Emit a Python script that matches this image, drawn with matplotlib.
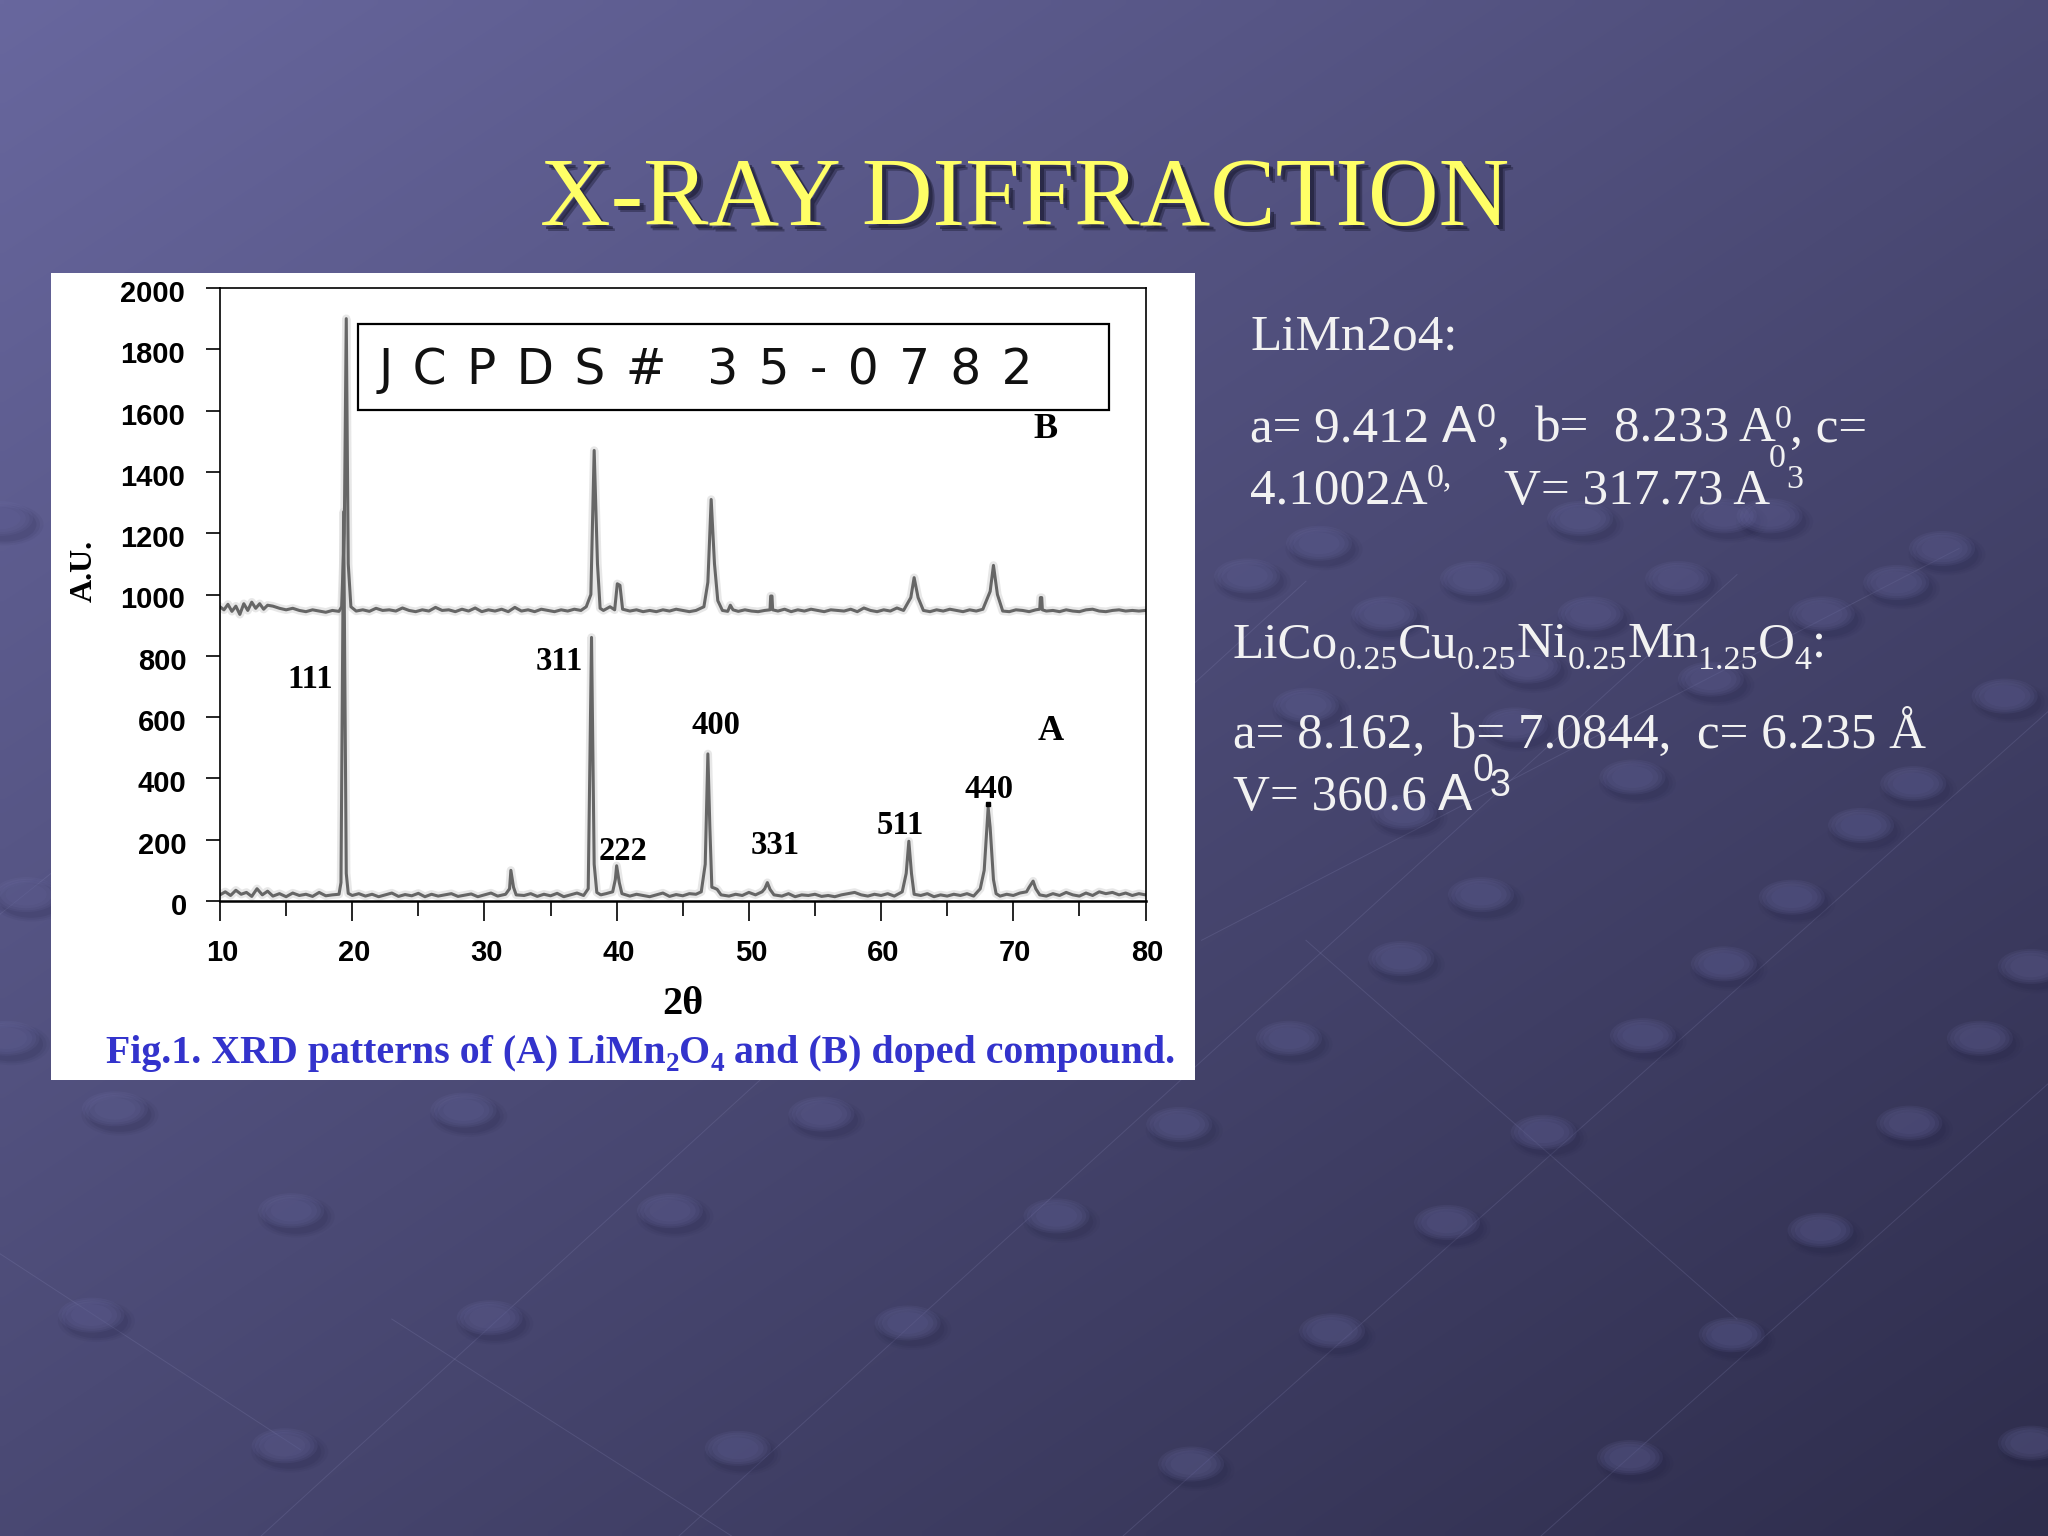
import numpy as np
import matplotlib
matplotlib.use("Agg")
import matplotlib.pyplot as plt
from matplotlib.patches import Ellipse, Rectangle
from matplotlib.transforms import ScaledTranslation

W, H = 2048, 1536
SERIF = "Liberation Serif"
SANS = "Liberation Sans"

# ---------- chart data ----------
trace_a = [(10,20),(10.4,30),(10.8,18),(11.2,35),(11.6,22),(12,28),(12.4,15),(12.8,40),(13.2,20),(13.6,32),(14,16),(14.5,24),(15,14),(15.5,26),(16,18),(16.5,22),(17,15),(17.5,28),(18,17),(18.5,20),(19,22),(19.15,60),(19.35,1270),(19.55,90),(19.7,25),
 (20,18),(20.5,24),(21,16),(21.5,22),(22,14),(22.5,20),(23,26),(23.5,15),(24,21),(24.5,17),(25,25),(25.5,14),(26,22),(26.5,16),(27,20),(27.5,24),(28,15),(28.5,19),(29,23),(29.5,14),(30,20),(30.5,26),(31,16),(31.6,22),(31.9,40),(32.0,100),(32.2,45),(32.4,20),
 (33,18),(33.5,24),(34,15),(34.5,22),(35,17),(35.5,25),(36,14),(36.5,20),(37,26),(37.5,18),(37.85,40),(38.1,860),(38.3,120),(38.5,28),(38.8,20),(39.2,24),(39.7,30),(39.9,70),(40.0,115),(40.2,60),(40.4,24),
 (41,16),(41.5,22),(42,18),(42.5,14),(43,20),(43.5,26),(44,15),(44.5,21),(45,17),(45.5,24),(46,22),(46.4,30),(46.7,120),(46.9,480),(47.05,240),(47.2,45),(47.4,42),(47.6,38),(47.9,20),
 (48.5,16),(49,22),(49.5,18),(50,28),(50.5,20),(51,30),(51.2,40),(51.4,60),(51.6,38),(51.9,20),(52.5,16),(53,24),(53.5,14),(54,20),(54.5,18),(55,22),(55.5,15),(56,18),(56.5,14),(57,20),(57.5,24),(58,28),(58.5,20),(59,16),(59.5,22),(60,18),(60.5,24),(61,16),(61.6,30),(61.9,90),(62.1,195),(62.3,90),(62.5,22),
 (63,18),(63.5,24),(64,14),(64.5,20),(65,16),(65.5,22),(66,18),(66.5,24),(67,16),(67.5,40),(67.8,100),(68.1,305),(68.25,240),(68.5,70),(68.7,24),(69,16),(69.5,22),(70,18),(70.5,26),(71,30),(71.2,45),(71.5,65),(71.7,40),(72,20),
 (72.5,16),(73,24),(73.5,18),(74,28),(74.5,20),(75,16),(75.5,26),(76,18),(76.5,30),(77,24),(77.5,28),(78,20),(78.5,26),(79,18),(79.5,24),(80,20)]

trace_b = [(10,960),(10.3,950),(10.6,968),(10.9,945),(11.2,962),(11.5,935),(11.8,970),(12.1,948),(12.4,975),(12.7,955),(13,970),(13.3,952),(13.6,965),(14,962),(14.5,955),(15,950),(15.5,955),(16,948),(16.5,944),(17,950),(17.5,946),(18,942),(18.5,948),(19,945),(19.2,960),(19.4,1200),(19.55,1900),(19.7,1100),(19.9,960),
 (20.3,946),(20.8,950),(21.3,945),(21.8,955),(22.3,948),(22.8,950),(23.3,946),(23.8,956),(24.3,948),(24.8,944),(25.3,950),(25.8,946),(26.3,958),(26.8,948),(27.3,950),(27.8,944),(28.3,952),(28.8,946),(29.3,956),(29.8,944),(30.3,950),(30.8,946),(31.3,952),(31.8,944),(32.3,958),(32.8,946),(33.3,950),(33.8,944),(34.3,952),(34.8,948),(35.3,944),(35.8,950),(36.3,946),(36.8,952),(37.3,948),(37.7,960),(38.05,1000),(38.3,1470),(38.55,1100),(38.75,955),(39,948),
 (39.5,960),(39.85,950),(40.05,1035),(40.25,1030),(40.45,952),(41,946),(41.5,950),(42,944),(42.5,948),(43,944),(43.5,950),(44,946),(44.5,952),(45,948),(45.5,944),(46,948),(46.6,960),(46.9,1040),(47.15,1310),(47.4,1100),(47.65,980),(48,948),(48.4,945),(48.6,965),(48.8,950),(49.2,945),(49.7,950),(50.2,946),(50.7,944),(51.2,948),(51.6,950),(51.65,995),(51.75,995),(51.8,950),
 (52.2,946),(52.7,952),(53.2,944),(53.7,950),(54.2,946),(54.7,952),(55.2,948),(55.7,944),(56.2,950),(56.7,948),(57.2,946),(57.7,952),(58.2,944),(58.7,956),(59.2,948),(59.7,944),(60.2,950),(60.7,946),(61.2,956),(61.7,948),(62.25,990),(62.5,1055),(62.8,990),(63.2,948),(63.7,944),(64.2,950),(64.7,946),(65.2,952),(65.7,948),(66.2,944),(66.7,950),(67.2,946),(67.7,952),(68.25,1010),(68.5,1095),(68.8,1000),(69.2,946),(69.7,944),(70.2,950),(70.7,948),(71.2,944),(71.7,950),(72.0,952),(72.05,990),(72.15,990),(72.2,950),(72.5,946),(73,948),(73.5,944),(74,950),(74.5,946),(75,944),(75.5,950),(76,952),(76.5,946),(77,944),(77.5,948),(78,950),(78.5,946),(79,948),(79.5,946),(80,948)]

x_ticks_major = [10,20,30,40,50,60,70,80]
x_ticks_minor = [15,25,35,45,55,65,75]
y_ticks = [0,200,400,600,800,1000,1200,1400,1600,1800,2000]

peak_labels = ["111","311","222","400","331","511","440"]
peak_label_px = [(310,679),(559,661),(623,851),(716,725),(775,845),(900,825),(989,790)]

fig = plt.figure(figsize=(W/100, H/100), dpi=100)

# ---------- slide background ----------
bg = fig.add_axes([0,0,1,1], zorder=0)
bg.set_xlim(0,W); bg.set_ylim(H,0); bg.axis("off")
u = np.linspace(0,1,256); v = np.linspace(0,1,192)
uu, vv = np.meshgrid(u, v)
t = ((uu*0.55 + vv*0.62)/1.17)[...,None]
top = np.array([0x68,0x67,0x9e])/255
bot = np.array([0x2e,0x2d,0x4c])/255
bg.imshow(top*(1-t)+bot*t, extent=[0,W,H,0], aspect="auto", interpolation="bilinear", zorder=0)
bg.set_xlim(0,W); bg.set_ylim(H,0)

blobs = [(88,849),(355,850),(629,853),(903,861),(1182,867),(1462,860),(223,927),(513,927),(809,931),(1108,936),(1394,942),
 (70,1007),(375,1009),(695,1013),(1020,1019),(1326,1022),(218,1107),(565,1109),(912,1121),(1248,1116),(1555,1105),
 (987,795),(1258,793),(1516,795),(5,795),(1073,734),(1320,738),(1555,740),(1134,685),(1372,687),(20,685),
 (1250,595),(1425,632),(1465,600),(1075,622),(1010,416),(1210,397),(1320,395),(1355,395),(1487,420),(955,441),
 (1128,443),(1285,443),(1452,446),(1060,470),(1218,470),(1395,470),(1535,533),(1170,510),(1160,555),(1310,520),(1000,540),(0,397)]
lines = [((860,1176),(1568,545)),((200,1176),(1000,445)),((520,1176),(1330,440)),((1180,1176),(1568,830)),((0,700),(250,500)),((920,720),(1500,420)),
         ((0,960),(230,1110)),((300,1010),(560,1176)),((1000,720),(1330,1010))]
for (a,b) in lines:
    bg.plot([a[0]*1.306,b[0]*1.306],[a[1]*1.306,b[1]*1.306],color="#8a8ab8",lw=0.7,alpha=0.22,zorder=1)
for (x,y) in blobs:
    X,Y = x*1.306,y*1.306
    for k,(sc,al) in enumerate(((1.1,0.06),(1.0,0.08),(0.9,0.10))):
        bg.add_patch(Ellipse((X+5,Y+6),70*sc,38*sc,fc="#1e1e40",ec="none",alpha=al,zorder=2))
    for k,(sc,al) in enumerate(((1.0,0.10),(0.9,0.10),(0.78,0.10),(0.62,0.08))):
        bg.add_patch(Ellipse((X,Y),66*sc,35*sc,fc="#7a7ab4",ec="none",alpha=al,zorder=3))

bg.add_patch(Rectangle((51,273),1144,807,fc="white",ec="none",zorder=5))

# ---------- chart ----------
ax = fig.add_axes([220/W, 1-901/H, (1145.5-220)/W, (901-288)/H], zorder=2)
ax.set_facecolor("none")
ax.set_xlim(10,80); ax.set_ylim(0,2000)
for tr in (trace_a,trace_b):
    tr_x,tr_y = zip(*tr)
    ax.plot(tr_x,tr_y,color="#d8d8d8",lw=6,alpha=0.6,solid_joinstyle="round",zorder=1)
    ax.plot(tr_x,tr_y,color="#666666",lw=2.2,solid_joinstyle="round",zorder=2)
ax.plot([68.1],[318],marker="s",ms=3,color="black",ls="none",zorder=3)
for s in ax.spines.values():
    s.set_linewidth(1.2); s.set_color("black")
ax.spines["bottom"].set_linewidth(1.8)
ax.set_xticks(x_ticks_major); ax.set_xticks(x_ticks_minor, minor=True)
ax.tick_params(axis="x",which="major",length=14.5,width=1.2,pad=13)
ax.tick_params(axis="x",which="minor",length=11,width=1.2)
ax.set_xticklabels([str(v) for v in x_ticks_major],fontfamily=SANS,fontweight="bold",fontsize=21)
ax.set_yticks(y_ticks)
ax.set_yticklabels([str(v) for v in y_ticks],fontfamily=SANS,fontweight="bold",fontsize=21)
ax.tick_params(axis="y",width=1.2,length=10)
for val,tk in zip(y_ticks,ax.yaxis.get_major_ticks()):
    if val<1000:
        tk.tick1line.set_markersize(15); tk.set_pad(14)
    else:
        tk.tick1line.set_markersize(10); tk.set_pad(15.5)
dn = ScaledTranslation(0,-3/100,fig.dpi_scale_trans)
rt = ScaledTranslation(2/100,0,fig.dpi_scale_trans)
for lb in ax.get_yticklabels():
    lb.set_transform(lb.get_transform()+dn)
for lb in ax.get_xticklabels():
    lb.set_transform(lb.get_transform()+rt)

# ---------- overlay text ----------
ov = fig.add_axes([0,0,1,1], zorder=3)
ov.set_xlim(0,W); ov.set_ylim(H,0); ov.axis("off"); ov.patch.set_alpha(0)

for s,(x,y) in zip(peak_labels,peak_label_px):
    ov.text(x,y,s,family=SERIF,weight="bold",fontsize=23.5,color="black",ha="center",va="center")
ov.text(1051,732,"A",family=SERIF,weight="bold",fontsize=26,ha="center",va="center")
ov.text(1045,430,"B",family=SERIF,weight="bold",fontsize=26,ha="center",va="center")
ov.text(84,571,"A.U.",family=SERIF,weight="bold",fontsize=23,rotation=90,ha="center",va="center")
ov.text(683,1004,"2θ",family=SERIF,weight="bold",fontsize=29,ha="center",va="center")

ov.add_patch(Rectangle((358,324),751,86,fc="white",ec="black",lw=1.6,zorder=4))
h = " \u200a"
jc = h.join("JCPDS#") + h + h + h.join("35-0782")
ov.text(379,370,jc,family="DejaVu Sans",fontsize=35,ha="left",va="center",color="#111111",zorder=5)

rend = fig.canvas.get_renderer()
def measure(txt,fam,wt,size):
    a = ov.text(0,0,"."+txt+".",family=fam,weight=wt,fontsize=size)
    b = ov.text(0,0,"..",family=fam,weight=wt,fontsize=size)
    w = a.get_window_extent(rend).width-b.get_window_extent(rend).width
    a.remove(); b.remove()
    return w
def runs(x, y, parts, color):
    """parts: (text, size, baseline shift in px, family, weight)"""
    for txt,size,dy,fam,wt in parts:
        ov.text(x+(measure(txt,fam,wt,size)-measure(txt.lstrip(" "),fam,wt,size)),y+dy,txt.lstrip(" "),family=fam,weight=wt,fontsize=size,color=color,ha="left",va="baseline",zorder=6)
        x += measure(txt,fam,wt,size)
    return x

# caption
B = (SERIF,"bold")
C="#3333cc"
runs(106,1063,[("Fig.1. XRD patterns of (A) LiMn",28.7,0,*B),("2",19.5,8,*B),("O",28.7,0,*B),("4",19.5,8,*B),(" and (B) doped compound.",28.7,0,*B)],C)

# title
for dx,col,al in ((6,"#20203a",0.45),(4,"#20203a",0.65),(0,"#ffff66",1)):
    ov.text(1025+dx,201+dx,"X-RAY DIFFRACTION",family=SERIF,fontsize=70.5,color=col,alpha=al,ha="center",va="center",zorder=6+(dx==0))

# right column
TC="#f2f2f2"; R=(SERIF,"normal")
fs=36.8; sub=24.5
ov.text(1250,349,"LiMn2o4:",family=SERIF,fontsize=fs,color=TC,va="baseline")
ov.text(1250,442,"a= 9.412",family=SERIF,fontsize=fs,color=TC,va="baseline")
ov.text(1442,442,"A",family=SANS,fontsize=fs,color=TC,va="baseline")
ov.text(1477,427,"0",family=SANS,fontsize=sub,color=TC,va="baseline")
ov.text(1497,442,",",family=SERIF,fontsize=fs,color=TC,va="baseline")
ov.text(1534,442,"b=  8.233 A",family=SERIF,fontsize=fs,color=TC,va="baseline")
ov.text(1775,428,"0",family=SERIF,fontsize=sub,color=TC,va="baseline")
ov.text(1790,442,", c=",family=SERIF,fontsize=fs,color=TC,va="baseline")
ov.text(1250,504,"4.1002A",family=SERIF,fontsize=fs,color=TC,va="baseline")
ov.text(1427,486,"0,",family=SERIF,fontsize=sub,color=TC,va="baseline")
ov.text(1504,504,"V= 317.73 A",family=SERIF,fontsize=fs,color=TC,va="baseline")
ov.text(1769,467,"0",family=SERIF,fontsize=sub,color=TC,va="baseline")
ov.text(1786,488,"3",family=SERIF,fontsize=sub,color=TC,va="baseline")
runs(1233,657,[("LiCo",fs,0,*R),("0.25",sub,12,*R),("Cu",fs,0,*R),("0.25",sub,12,*R),("Ni",fs,0,*R),("0.25",sub,12,*R),("Mn",fs,0,*R),("1.25",sub,12,*R),("O",fs,0,*R),("4",sub,12,*R),(":",fs,0,*R)],TC)
ov.text(1233,749,"a= 8.162,  b= 7.0844,  c= 6.235 Å",family=SERIF,fontsize=fs,color=TC,va="baseline")
ov.text(1233,810,"V= 360.6",family=SERIF,fontsize=fs,color=TC,va="baseline")
ov.text(1438,810,"A",family=SANS,fontsize=fs,color=TC,va="baseline")
ov.text(1473,781,"0",family=SANS,fontsize=27,color=TC,va="baseline")
ov.text(1490,796,"3",family=SANS,fontsize=27,color=TC,va="baseline")

fig.savefig("out.png",dpi=100)
